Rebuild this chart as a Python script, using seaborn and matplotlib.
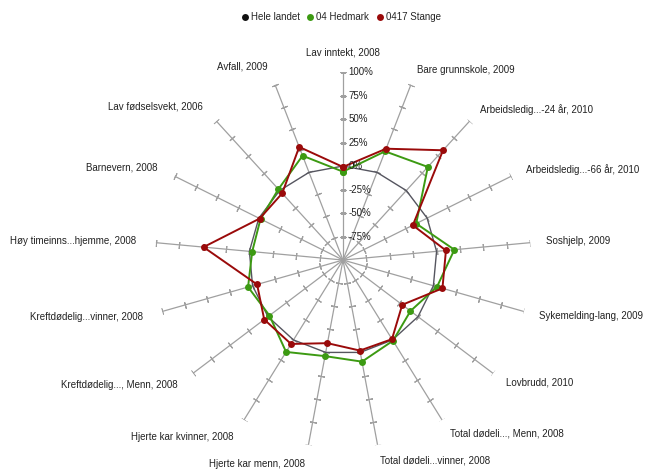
import numpy as np
import pandas as pd
import matplotlib
matplotlib.use("Agg")
import matplotlib.pyplot as plt
from matplotlib.lines import Line2D
import seaborn as sns

categories = [
    "Lav inntekt, 2008", "Bare grunnskole, 2009", "Arbeidsledig...-24 år, 2010",
    "Arbeidsledig...-66 år, 2010", "Soshjelp, 2009", "Sykemelding-lang, 2009",
    "Lovbrudd, 2010", "Total dødeli..., Menn, 2008", "Total dødeli...vinner, 2008",
    "Hjerte kar menn, 2008", "Hjerte kar kvinner, 2008", "Kreftdødelig..., Menn, 2008",
    "Kreftdødelig...vinner, 2008", "Høy timeinns...hjemme, 2008", "Barnevern, 2008",
    "Lav fødselsvekt, 2006", "Avfall, 2009",
]
hele_landet = [0] * 17
hedmark = [-6, 24, 34, -13, 19, 4, -10, 1, 10, 4, 15, -2, 5, -3, -2, 2, 19]
stange = [-1, 27, 58, -17, 10, 10, -21, -1, -2, -10, 5, 5, -5, 49, -1, -4, 29]
series_names = ["Hele landet", "04 Hedmark", "0417 Stange"]
tick_values = [-75, -50, -25, 0, 25, 50, 75, 100]
tick_labels = ["-75%", "-50%", "-25%", "0%", "25%", "50%", "75%", "100%"]

colors = {"Hele landet": "#55555f", "04 Hedmark": "#3c9a12", "0417 Stange": "#9a0a0a"}

sns.set_style("white")
plt.rcParams["font.family"] = ["Liberation Sans", "DejaVu Sans"]

n = len(categories)
theta = np.arange(n) * 2 * np.pi / n

# long format, with the first point repeated to close each polygon
rows = []
for name, vals in zip(series_names, [hele_landet, hedmark, stange]):
    for t, v in zip(list(theta) + [2 * np.pi], list(vals) + [vals[0]]):
        rows.append({"theta": t, "value": v, "series": name})
df = pd.DataFrame(rows)

fig = plt.figure(figsize=(6.52, 4.72), dpi=100)
ax = fig.add_axes([0.2377, 0.0508, 0.5767, 0.7966], projection="polar")
ax.set_theta_zero_location("N")
ax.set_theta_direction(-1)
ax.set_ylim(-100, 100)
ax.grid(False)
ax.spines["polar"].set_visible(False)
ax.set_xticks([])
ax.set_yticks([])
ax.patch.set_alpha(0)

# spokes with small perpendicular ticks
for t in theta:
    ax.plot([t, t], [-100, 100], color="#a0a0a0", lw=0.9, zorder=1)
    ang = 90 - np.degrees(t)
    ax.plot([t] * len(tick_values), tick_values, linestyle="none",
            marker=(2, 2, ang), markersize=5, markeredgewidth=0.8,
            color="#a0a0a0", zorder=1)

sns.lineplot(data=df[df["series"] == "Hele landet"], x="theta", y="value",
             color=colors["Hele landet"], lw=1.0, sort=False, ax=ax,
             legend=False, zorder=2)
for name in ["04 Hedmark", "0417 Stange"]:
    sns.lineplot(data=df[df["series"] == name], x="theta", y="value",
                 color=colors[name], lw=1.4, marker="o", markersize=5,
                 markeredgewidth=0, sort=False, ax=ax, legend=False, zorder=3)
ax.set_xlabel("")
ax.set_ylabel("")

# radial value labels along the top spoke
for v, lab in zip(tick_values, tick_labels):
    ax.annotate(lab, (0, v), xytext=(4, 0), textcoords="offset points",
                ha="left", va="center", fontsize=7, color="#222222", zorder=4)

# category labels
for t, lab in zip(theta, categories):
    s = np.sin(t)
    r = 121
    if s > 0.1:
        ha = "left"
        r = 117
    elif s < -0.1:
        ha = "right"
    else:
        ha = "center"
    ax.text(t, r, lab, ha=ha, va="center", fontsize=7, color="#222222",
            clip_on=False)

handles = [Line2D([], [], linestyle="none", marker="o", markersize=5,
                  markeredgewidth=0,
                  color=("#111111" if s == "Hele landet" else colors[s]))
           for s in series_names]
fig.legend(handles, series_names, loc="center", bbox_to_anchor=(0.522, 0.963),
           ncol=3, frameon=False, fontsize=7, handletextpad=0.1,
           columnspacing=0.6, handlelength=1.0)

fig.savefig("out.png", dpi=100)
